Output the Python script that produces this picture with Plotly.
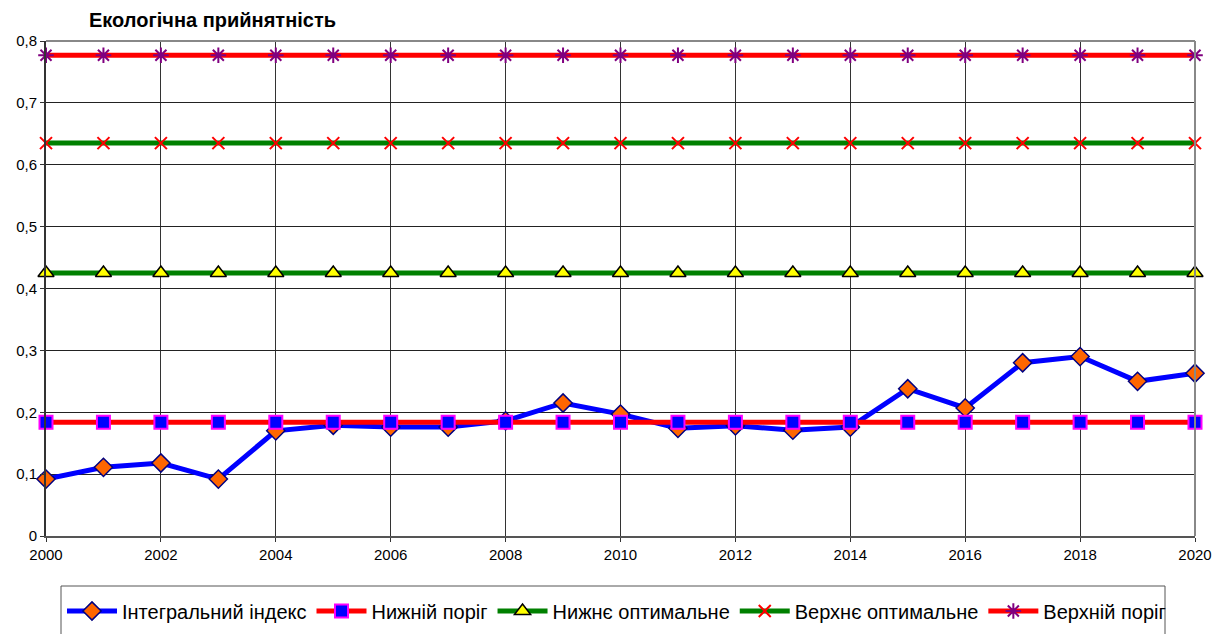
import plotly.graph_objects as go

# --- Дані ---
years = list(range(2000, 2021))
integral_index = [0.092, 0.111, 0.118, 0.092, 0.170, 0.179, 0.176, 0.176, 0.186, 0.215,
                  0.197, 0.174, 0.178, 0.171, 0.176, 0.238, 0.207, 0.280, 0.290, 0.250, 0.263]
lower_threshold = [0.184] * 21
lower_optimal = [0.425] * 21
upper_optimal = [0.635] * 21
upper_threshold = [0.777] * 21
y_ticks = [0, 0.1, 0.2, 0.3, 0.4, 0.5, 0.6, 0.7, 0.8]
x_ticks = list(range(2000, 2021, 2))

W, H = 1212, 634
L, T, R = 46, 41, 17
B = H - 536
pw, ph = W - L - R, H - T - B


def px_x(x):   # піксель сторінки -> paper x
    return (x - L) / pw


def px_y(y):   # піксель сторінки -> paper y
    return (H - B - y) / ph


fig = go.Figure()

# Інтегральний індекс
fig.add_trace(go.Scatter(
    x=years, y=integral_index, mode='lines+markers', name='Інтегральний індекс',
    line=dict(color='#0000FF', width=5),
    marker=dict(symbol='diamond', size=14, color='#FF6600', line=dict(color='#000080', width=1.5)),
    cliponaxis=False
))
# Нижній поріг
fig.add_trace(go.Scatter(
    x=years, y=lower_threshold, mode='lines+markers', name='Нижній поріг',
    line=dict(color='#FF0000', width=5),
    marker=dict(symbol='square', size=13, color='#0000FF', line=dict(color='#FF00FF', width=2)),
    cliponaxis=False
))
# Нижнє оптимальне
fig.add_trace(go.Scatter(
    x=years, y=lower_optimal, mode='lines+markers', name='Нижнє оптимальне',
    line=dict(color='#008000', width=5),
    marker=dict(symbol='triangle-up', size=14, color='#FFFF00', line=dict(color='#000000', width=1.5)),
    cliponaxis=False
))
# Верхнє оптимальне
fig.add_trace(go.Scatter(
    x=years, y=upper_optimal, mode='lines+markers', name='Верхнє оптимальне',
    line=dict(color='#008000', width=5),
    marker=dict(symbol='x-thin-open', size=12, color='#FF0000', line=dict(color='#FF0000', width=2)),
    cliponaxis=False
))
# Верхній поріг
fig.add_trace(go.Scatter(
    x=years, y=upper_threshold, mode='lines+markers', name='Верхній поріг',
    line=dict(color='#FF0000', width=5),
    marker=dict(symbol='asterisk-open', size=13, color='#800080', line=dict(color='#800080', width=2)),
    cliponaxis=False
))

# Рамка легенди
fig.add_shape(type='rect', xref='paper', yref='paper',
              x0=px_x(61), x1=px_x(1165), y0=px_y(660), y1=px_y(586),
              line=dict(color='#555555', width=1), fillcolor='rgba(0,0,0,0)')

# Сіра рамка зверху та справа
fig.add_shape(type='line', xref='paper', yref='paper', x0=0, x1=1, y0=1, y1=1,
              line=dict(color='#888888', width=2))
fig.add_shape(type='line', xref='paper', yref='paper', x0=1, x1=1, y0=0, y1=1,
              line=dict(color='#888888', width=2))

fig.update_layout(
    width=W, height=H,
    margin=dict(l=L, r=R, t=T, b=B, autoexpand=False),
    paper_bgcolor='white', plot_bgcolor='white',
    font=dict(family='Liberation Sans, Arial, sans-serif', color='#000000', size=15),
    separators=', ',
    title=dict(text='<b>Екологічна прийнятність</b>', x=89 / W, xanchor='left',
               y=1 - 20 / H, yanchor='middle', font=dict(size=20)),
    showlegend=True,
    legend=dict(orientation='h', x=px_x(62), xanchor='left',
                y=px_y(611), yanchor='middle',
                font=dict(size=20), bgcolor='rgba(0,0,0,0)', itemwidth=50,
                traceorder='normal'),
    xaxis=dict(range=[2000, 2020], tickvals=x_ticks, ticks='outside', ticklen=4,
               tickcolor='#333333', showgrid=True, gridcolor='#333333', gridwidth=1,
               showline=True, linecolor='#555555', linewidth=2,
               zeroline=False, tickfont=dict(size=15), automargin=False),
    yaxis=dict(range=[0, 0.8], tickvals=y_ticks, ticks='outside', ticklen=4,
               tickcolor='#333333', showgrid=True, gridcolor='#222222', gridwidth=1,
               showline=True, linecolor='#333333', linewidth=2, zeroline=False,
               tickfont=dict(size=15), automargin=False),
)

# прибираємо стандартний відступ body, щоб графік займав усе вікно
fig.write_html("out.html",
               config={'displayModeBar': False},
               post_script="document.body.style.margin='0';"
                           "document.documentElement.style.overflow='hidden';")
